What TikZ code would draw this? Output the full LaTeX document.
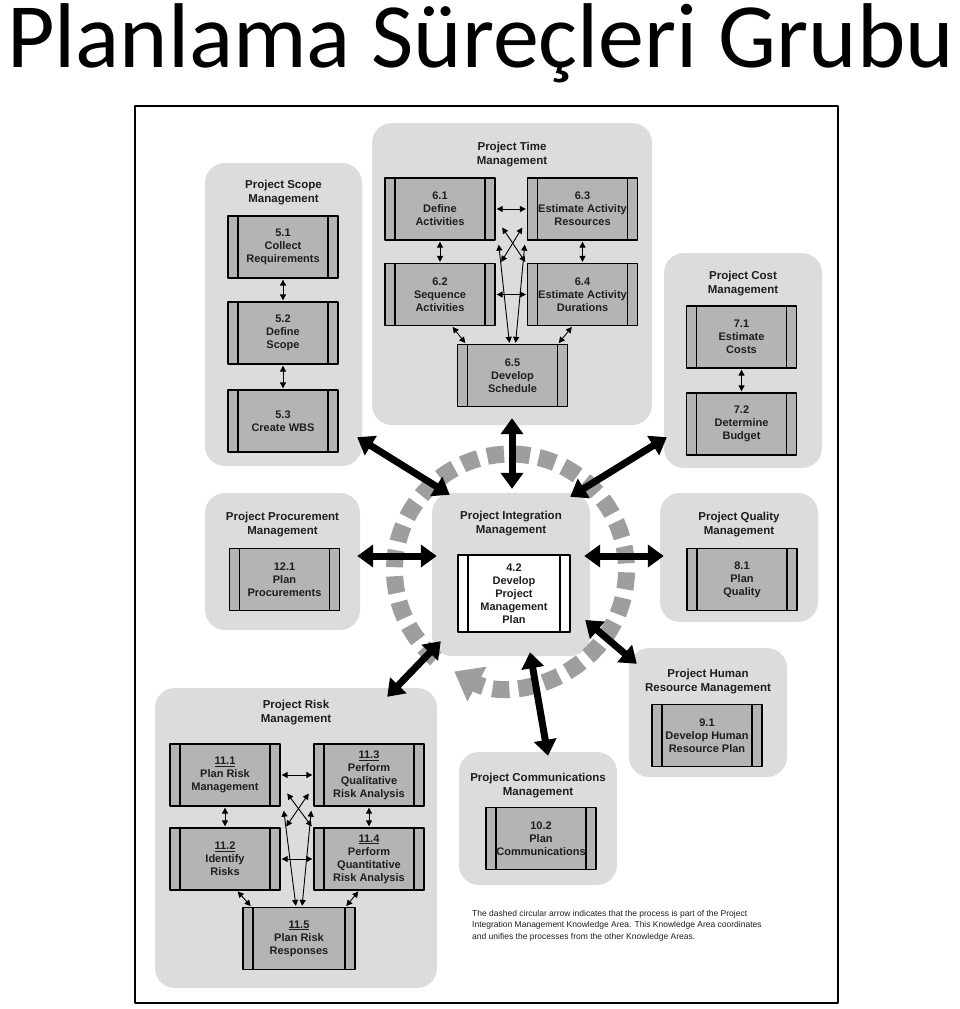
\documentclass[tikz,border=0pt]{standalone}
\usepackage{fontspec}
\setmainfont{Liberation Sans}
\newfontfamily\titlefont{Carlito}
\usetikzlibrary{arrows.meta}
\definecolor{grpgray}{RGB}{220,220,220}
\definecolor{boxgray}{RGB}{180,180,180}
\definecolor{ringgray}{RGB}{158,158,158}
\definecolor{inkgray}{RGB}{30,30,30}
\tikzset{
	area/.style={fill=grpgray, rounded corners=20pt, inner sep=0pt},
	areatitle/.style={font=\fontsize{11.5}{14}\selectfont\bfseries, align=center, text=inkgray, inner sep=0pt},
	proc/.style={draw, line width=1.3pt, fill=boxgray, minimum width=110pt, minimum height=62pt, inner sep=0pt, align=center, font=\fontsize{11}{13}\selectfont\bfseries, text=inkgray,
		path picture={\draw[line width=1.3pt] ([xshift=10pt]path picture bounding box.north west) -- ([xshift=10pt]path picture bounding box.south west) ([xshift=-10pt]path picture bounding box.north east) -- ([xshift=-10pt]path picture bounding box.south east);}},
	link/.style={line width=0.9pt, shorten <=1pt, shorten >=1pt, {Triangle[length=6pt,width=6pt]}-{Triangle[length=6pt,width=6pt]}},
	bigarrow/.style={line width=7pt, {Triangle[length=16pt,width=22pt]}-{Triangle[length=16pt,width=22pt]}}
}
\begin{document}
\begin{tikzpicture}[x=1pt, y=-1pt, line join=round]
		\useasboundingbox (0,0) rectangle (960,1009);
		\node[font=\titlefont\fontsize{92}{100}\selectfont, anchor=base west, inner sep=0pt] (title) at (7,67) {Planlama Süreçleri Grubu};
		\draw[line width=1.5pt] (135,106) rectangle (838,1003);
		
		\node[area, minimum width=157pt, minimum height=303pt] (scope) at (283.5,314.5) {};
		\node[area, minimum width=280pt, minimum height=302pt] (time) at (512,274) {};
		\node[area, minimum width=158pt, minimum height=215pt] (cost) at (743,360.5) {};
		\node[area, minimum width=155pt, minimum height=137pt] (proc) at (282.5,561.5) {};
		\node[area, minimum width=158pt, minimum height=163pt] (integ) at (511,574.5) {};
		\node[area, minimum width=158pt, minimum height=129pt] (quality) at (739,557.5) {};
		\node[area, minimum width=158pt, minimum height=129pt] (hr) at (708,712.5) {};
		\node[area, minimum width=158pt, minimum height=133pt] (comms) at (538,818.5) {};
		\node[area, minimum width=282pt, minimum height=300pt] (risk) at (296,838) {};
		
		\node[areatitle] (scopet) at (283.5,193) {Project Scope\\Management};
		\node[areatitle] (timet) at (512,154.5) {Project Time\\Management};
		\node[areatitle] (costt) at (743,284) {Project Cost\\Management};
		\node[areatitle] (proct) at (282.5,524.5) {Project Procurement\\Management};
		\node[areatitle] (integt) at (511,523.5) {Project Integration\\Management};
		\node[areatitle] (qualityt) at (739,524.5) {Project Quality\\Management};
		\node[areatitle] (hrt) at (708,682) {Project Human\\Resource Management};
		\node[areatitle] (commst) at (538,786) {Project Communications\\Management};
		\node[areatitle] (riskt) at (296,713) {Project Risk\\Management};
		
		\draw[ringgray, line width=17pt, dash pattern=on 17pt off 9pt, -{Triangle[length=26pt,width=38pt]}] (510.5,570) ++(130:116) arc[start angle=130, end angle=479, radius=116];
		
		\node[proc] (p51) at (283,247) {5.1\\Collect\\Requirements};
		\node[proc] (p52) at (283,333) {5.2\\Define\\Scope};
		\node[proc] (p53) at (283,421) {5.3\\Create WBS};
		\node[proc] (p61) at (440,209) {6.1\\Define\\Activities};
		\node[proc] (p63) at (582.5,209) {6.3\\Estimate Activity\\Resources};
		\node[proc] (p62) at (440,294.5) {6.2\\Sequence\\Activities};
		\node[proc] (p64) at (582.5,294.5) {6.4\\Estimate Activity\\Durations};
		\node[proc] (p65) at (512.5,375.5) {6.5\\Develop\\Schedule};
		\node[proc] (p71) at (741.5,337) {7.1\\Estimate\\Costs};
		\node[proc] (p72) at (741.5,424) {7.2\\Determine\\Budget};
		\node[proc] (p121) at (284.5,579.5) {12.1\\Plan\\Procurements};
		\node[proc, fill=white, minimum width=112pt, minimum height=77pt] (p42) at (514,593.5) {4.2\\Develop\\Project\\Management\\Plan};
		\node[proc] (p81) at (742,579.5) {8.1\\Plan\\Quality};
		\node[proc] (p91) at (707,735.5) {9.1\\Develop Human\\Resource Plan};
		\node[proc] (p102) at (541,838.5) {10.2\\Plan\\Communications};
		\node[proc] (p111) at (225,775) {\underline{11.1}\\Plan Risk\\Management};
		\node[proc] (p113) at (369,775) {\underline{11.3}\\Perform\\Qualitative\\Risk Analysis};
		\node[proc] (p112) at (225,859) {\underline{11.2}\\Identify\\Risks};
		\node[proc] (p114) at (369,859) {\underline{11.4}\\Perform\\Quantitative\\Risk Analysis};
		\node[proc, minimum width=112pt] (p115) at (299,938.5) {\underline{11.5}\\Plan Risk\\Responses};
		
		\draw[link] (p51.south) -- (p52.north);
		\draw[link] (p52.south) -- (p53.north);
		\draw[link] (p71.south) -- (p72.north);
		
		\draw[link] (p61.east) -- (p63.west);
		\draw[link] (p61.south) -- (p62.north);
		\draw[link] (p63.south) -- (p64.north);
		\draw[link] (p62.east) -- (p64.west);
		\draw[link] ([shift={(6,-14)}]p61.south east) -- ([shift={(-1,0)}]p64.north west);
		\draw[link] ([shift={(-4,-14)}]p63.south west) -- ([shift={(5,0)}]p62.north east);
		\draw[link] ([shift={(3,3)}]p61.south east) -- ([shift={(-3,0)}]p65.north);
		\draw[link] ([shift={(-2,3)}]p63.south west) -- ([shift={(3,0)}]p65.north);
		\draw[link] ([shift={(12,0)}]p62.south) -- ([shift={(9,0)}]p65.north west);
		\draw[link] ([shift={(-10,0)}]p64.south) -- ([shift={(-10,0)}]p65.north east);
		
		\draw[link] (p111.east) -- (p113.west);
		\draw[link] (p111.south) -- (p112.north);
		\draw[link] (p113.south) -- (p114.north);
		\draw[link] (p112.east) -- (p114.west);
		\draw[link] ([shift={(6,-14)}]p111.south east) -- ([shift={(-1,0)}]p114.north west);
		\draw[link] ([shift={(-4,-14)}]p113.south west) -- ([shift={(5,0)}]p112.north east);
		\draw[link] ([shift={(3,3)}]p111.south east) -- ([shift={(-3,0)}]p115.north);
		\draw[link] ([shift={(-2,3)}]p113.south west) -- ([shift={(3,0)}]p115.north);
		\draw[link] ([shift={(12,0)}]p112.south) -- ([shift={(9,0)}]p115.north west);
		\draw[link] ([shift={(-10,0)}]p114.south) -- ([shift={(-10,0)}]p115.north east);
		
		\draw[bigarrow] ([shift={(-5,-29)}]scope.south east) -- ([shift={(18,2)}]integ.north west);
		\draw[bigarrow] ([shift={(0,-7)}]time.south) -- ([shift={(1,-4)}]integ.north);
		\draw[bigarrow] ([shift={(3,-31)}]cost.south west) -- ([shift={(-20,4)}]integ.north east);
		\draw[bigarrow] ([shift={(-3,-5.5)}]proc.east) -- ([shift={(5,-18.5)}]integ.west);
		\draw[bigarrow] ([shift={(4,-1.5)}]quality.west) -- ([shift={(-6,-18.5)}]integ.east);
		\draw[bigarrow] ([shift={(8,16)}]hr.north west) -- ([shift={(-5,45.5)}]integ.east);
		\draw[bigarrow] ([shift={(-50,9)}]risk.north east) -- ([shift={(9,-15)}]integ.south west);
		\draw[bigarrow] ([shift={(10,4)}]comms.north) -- ([shift={(19,-4)}]integ.south);
		
		\node[anchor=north west, align=left, inner sep=0pt, font=\fontsize{8.5}{11.5}\selectfont, text=inkgray] (note) at (472,910) {The dashed circular arrow indicates that the process is part of the Project\\Integration Management Knowledge Area. This Knowledge Area coordinates\\and unifies the processes from the other Knowledge Areas.};
\end{tikzpicture}
\end{document}
